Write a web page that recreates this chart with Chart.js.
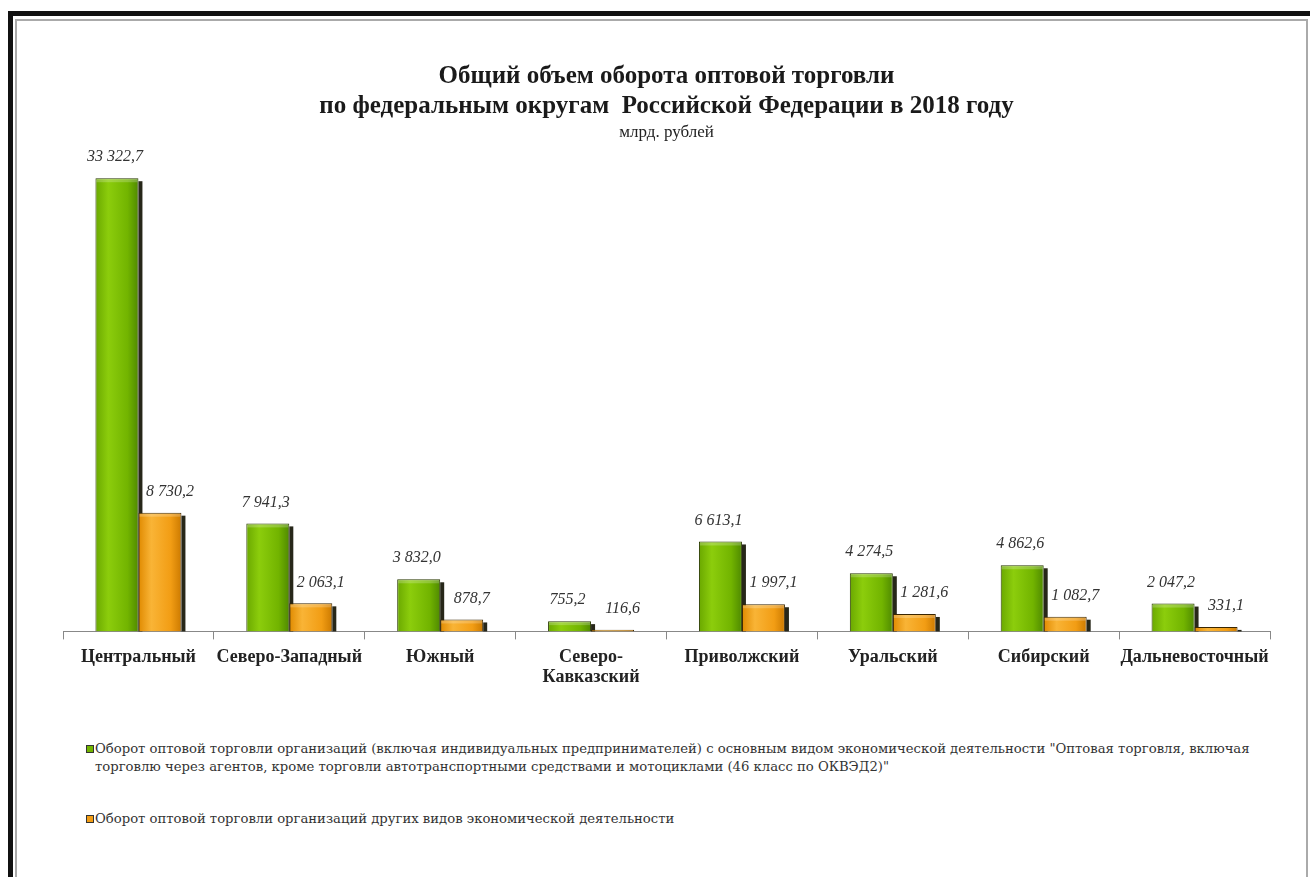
<!DOCTYPE html>
<html>
<head>
<meta charset="utf-8">
<script src="https://cdn.jsdelivr.net/npm/chart.js@4/dist/chart.umd.min.js"></script>
<style>
  body { margin: 0; background: #fff; width: 1310px; height: 877px; overflow: hidden; position: relative; }
  #frame { position: absolute; left: 8px; top: 11px; width: 1302px; height: 880px;
           border-left: 5px solid #111; border-top: 5px solid #111; }
  #inner { position: absolute; left: 15px; top: 19px; width: 1289px; height: 870px;
           border-left: 2px solid #aaa; border-top: 2px solid #aaa; border-right: 2px solid #aaa; }
  #wrap { position: absolute; left: 20px; top: 22px; width: 1285px; height: 690px; }
  #legend { position: absolute; left: 86px; top: 740px; width: 1195px;
            font: 13.2px "DejaVu Serif", "Liberation Serif", serif; color: #333; }
  .item { position: relative; padding-left: 9px; line-height: 18px; }
  .item + .item { margin-top: 34px; }
  .box { position: absolute; left: 0; top: 5px; width: 6px; height: 6px; border: 1px solid #333; }
</style>
</head>
<body>
<div id="frame"></div>
<div id="inner"></div>
<div id="wrap"><canvas id="chart"></canvas></div>
<div id="legend"></div>
<script>
const districts = [
  "Центральный", "Северо-Западный", "Южный", ["Северо-", "Кавказский"],
  "Приволжский", "Уральский", "Сибирский", "Дальневосточный"
];
const wholesaleMain = [33322.7, 7941.3, 3832.0, 755.2, 6613.1, 4274.5, 4862.6, 2047.2];
const wholesaleOther = [8730.2, 2063.1, 878.7, 116.6, 1997.1, 1281.6, 1082.7, 331.1];
const seriesNames = [
  "Оборот оптовой торговли организаций (включая индивидуальных  предпринимателей) с основным видом экономической деятельности \"Оптовая торговля, включая торговлю через агентов, кроме торговли автотранспортными средствами и мотоциклами (46 класс по ОКВЭД2)\"",
  "Оборот оптовой торговли организаций других видов  экономической деятельности"
];
const titleLines = ["Общий объем оборота оптовой торговли", "по федеральным округам  Российской Федерации в 2018 году"];
const subtitleText = "млрд. рублей";

const serif = '"Liberation Serif", "Times New Roman", serif';
const catPct = 0.57;

function fmt(v) {
  const parts = v.toFixed(1).split(".");
  return parts[0].replace(/\B(?=(\d{3})+(?!\d))/g, " ") + "," + parts[1];
}

// horizontal gradient across each bar, built from the category pixel
function barFill(stops, side) {
  return (ctx) => {
    const chart = ctx.chart;
    const x = chart.scales && chart.scales.x;
    if (!x || ctx.dataIndex === undefined) return stops[1];
    const cw = (x.right - x.left) / districts.length;
    const w = cw * catPct / 2;
    const cx = x.getPixelForValue(ctx.dataIndex);
    if (!isFinite(cx) || !isFinite(w) || w <= 0) return stops[1];
    const x0 = side === 0 ? cx - w : cx;
    const g = chart.ctx.createLinearGradient(x0, 0, x0 + w, 0);
    g.addColorStop(0, stops[0]);
    g.addColorStop(0.3, stops[1]);
    g.addColorStop(0.75, stops[2]);
    g.addColorStop(1, stops[3]);
    return g;
  };
}

const greenStops = ["#6aa800", "#8ccd0c", "#72b400", "#4f8a00"];
const orangeStops = ["#e08a00", "#f9b436", "#f29d14", "#cc7a00"];

// dark drop shadow on the right side of each bar (orange covers the green one)
const shadowPlugin = {
  id: "shadow",
  beforeDatasetsDraw(chart) {
    const c = chart.ctx;
    c.save();
    c.fillStyle = "rgba(15,15,0,0.9)";
    chart.data.datasets.forEach((ds, di) => {
      chart.getDatasetMeta(di).data.forEach((bar) => {
        const h = bar.base - bar.y;
        if (h > 4) c.fillRect(bar.x + bar.width / 2, bar.y + 3, 4, h - 3);
      });
    });
    c.restore();
  },
  afterDatasetsDraw(chart) {
    const c = chart.ctx;
    c.save();
    c.fillStyle = "rgba(255,255,255,0.22)";
    chart.data.datasets.forEach((ds, di) => {
      chart.getDatasetMeta(di).data.forEach((bar) => {
        const h = bar.base - bar.y;
        if (h > 6) c.fillRect(bar.x - bar.width / 2 + 1, bar.y + 1, bar.width - 2, 3);
      });
    });
    c.restore();
  }
};

const valueLabels = {
  id: "valueLabels",
  afterDatasetsDraw(chart) {
    const c = chart.ctx;
    c.save();
    c.font = "italic 16px " + serif;
    c.fillStyle = "#333";
    c.textAlign = "center";
    c.textBaseline = "middle";
    chart.data.datasets.forEach((ds, di) => {
      chart.getDatasetMeta(di).data.forEach((bar, i) => {
        const dx = di === 0 ? -2 : 10;
        const dy = di === 0 ? 21 : 21;
        c.fillText(fmt(ds.data[i]), bar.x + dx, bar.y - dy);
      });
    });
    c.restore();
  }
};

new Chart(document.getElementById("chart"), {
  type: "bar",
  data: {
    labels: districts,
    datasets: [
      {
        label: seriesNames[0],
        data: wholesaleMain,
        backgroundColor: barFill(greenStops, 0),
        borderColor: "#2a3a00",
        borderWidth: { top: 1, left: 1, right: 1, bottom: 0 },
        borderSkipped: "bottom"
      },
      {
        label: seriesNames[1],
        data: wholesaleOther,
        backgroundColor: barFill(orangeStops, 1),
        borderColor: "#3a2600",
        borderWidth: { top: 1, left: 1, right: 1, bottom: 0 },
        borderSkipped: "bottom"
      }
    ]
  },
  options: {
    responsive: true,
    maintainAspectRatio: false,
    animation: false,
    layout: { padding: { left: 43, right: 35, top: 0, bottom: 17 } },
    datasets: { bar: { categoryPercentage: catPct, barPercentage: 1 } },
    plugins: {
      legend: { display: false },
      tooltip: { enabled: false },
      title: {
        display: true,
        text: titleLines,
        color: "#1a1a1a",
        font: { family: serif, size: 25, weight: "bold", lineHeight: "30px" },
        padding: { top: 40, bottom: 0 }
      },
      subtitle: {
        display: true,
        text: subtitleText,
        color: "#222",
        font: { family: serif, size: 17, lineHeight: 1.2 },
        padding: { top: 0, bottom: 13 }
      }
    },
    scales: {
      x: {
        grid: { display: true, drawOnChartArea: false, drawTicks: true, tickLength: 8, offset: true, color: "#888" },
        border: { display: true, color: "#888", width: 1 },
        ticks: { color: "#222", padding: 8, maxRotation: 0, autoSkip: false,
                 font: { family: serif, size: 18, weight: "bold", lineHeight: 1.1 } }
      },
      y: {
        display: false,
        min: 0,
        max: 35000
      }
    }
  },
  plugins: [shadowPlugin, valueLabels]
});

const legendEl = document.getElementById("legend");
const boxColors = ["#72b400", "#f29d14"];
seriesNames.forEach((name, i) => {
  const div = document.createElement("div");
  div.className = "item";
  const box = document.createElement("span");
  box.className = "box";
  box.style.background = boxColors[i];
  div.appendChild(box);
  div.appendChild(document.createTextNode(name));
  legendEl.appendChild(div);
});
</script>
</body>
</html>
